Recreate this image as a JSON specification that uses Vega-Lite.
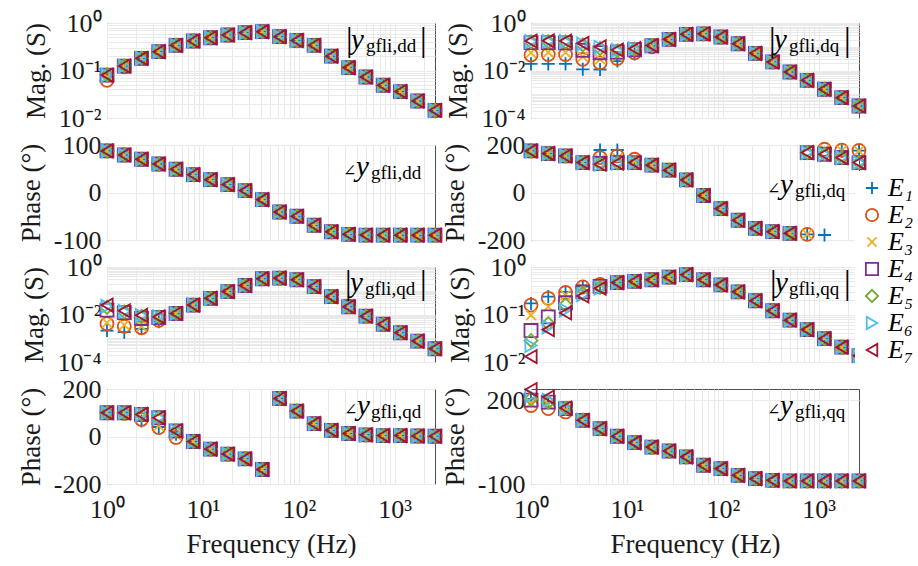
{
  "$schema": "https://vega.github.io/schema/vega-lite/v6.json",
  "padding": {"left": 16, "top": 9, "right": 0, "bottom": 0},
  "background": "white",
  "config": {
    "font": "Liberation Serif",
    "view": {"stroke": "#4d4d4d", "strokeWidth": 1},
    "style": {
      "guide-label": {"font": "Liberation Serif", "fontSize": 26, "fill": "#1a1a1a"},
      "guide-title": {"font": "Liberation Serif", "fontSize": 27, "fill": "#1a1a1a", "fontWeight": "normal"}
    },
    "axis": {"labelFont": "Liberation Serif", "labelFontSize": 26, "labelColor": "#1a1a1a", "titleFont": "Liberation Serif", "titleFontSize": 27, "titleFontWeight": "normal", "titleColor": "#1a1a1a", "gridColor": "#e9e9e9", "gridWidth": 1, "domain": false, "ticks": false, "labelPadding": 6, "labelFlush": false, "labelOverlap": false, "labelBound": false},
    "axisY": {"titlePadding": 8, "labelFont": "Liberation Serif", "titleFont": "Liberation Serif"},
    "axisX": {"titlePadding": 9, "labelPadding": 12, "labelFont": "Liberation Serif", "titleFont": "Liberation Serif"},
    "point": {"opacity": 1, "filled": false, "size": 170, "strokeWidth": 1.8, "clip": false},
    "text": {"font": "Liberation Serif", "color": "#000000", "align": "left", "baseline": "alphabetic"}
  },
  "datasets": {
    "pts": [
      {"p":"A","f":1,"E1":0.078,"E2":0.062,"E3":0.072,"E4":0.08,"E5":0.082,"E6":0.08,"E7":0.08},
      {"p":"A","f":1.514,"E1":0.124,"E2":0.12,"E3":0.124,"E4":0.124,"E5":0.126,"E6":0.124,"E7":0.124},
      {"p":"A","f":2.291,"E1":0.18,"E2":0.18,"E3":0.18,"E4":0.18,"E5":0.182,"E6":0.18,"E7":0.18},
      {"p":"A","f":3.467,"E1":0.249,"E2":0.249,"E3":0.249,"E4":0.249,"E5":0.252,"E6":0.249,"E7":0.249},
      {"p":"A","f":5.248,"E1":0.339,"E2":0.339,"E3":0.339,"E4":0.339,"E5":0.342,"E6":0.339,"E7":0.339},
      {"p":"A","f":7.943,"E1":0.418,"E2":0.418,"E3":0.418,"E4":0.418,"E5":0.42,"E6":0.418,"E7":0.418},
      {"p":"A","f":12.02,"E1":0.49,"E2":0.49,"E3":0.49,"E4":0.49,"E5":0.49,"E6":0.49,"E7":0.49},
      {"p":"A","f":18.2,"E1":0.56,"E2":0.56,"E3":0.56,"E4":0.56,"E5":0.56,"E6":0.56,"E7":0.56},
      {"p":"A","f":27.54,"E1":0.625,"E2":0.625,"E3":0.625,"E4":0.625,"E5":0.625,"E6":0.625,"E7":0.625},
      {"p":"A","f":41.69,"E1":0.656,"E2":0.656,"E3":0.656,"E4":0.656,"E5":0.656,"E6":0.656,"E7":0.656},
      {"p":"A","f":63.1,"E1":0.515,"E2":0.515,"E3":0.515,"E4":0.515,"E5":0.515,"E6":0.515,"E7":0.515},
      {"p":"A","f":95.5,"E1":0.43,"E2":0.43,"E3":0.43,"E4":0.43,"E5":0.43,"E6":0.43,"E7":0.43},
      {"p":"A","f":144.5,"E1":0.339,"E2":0.339,"E3":0.339,"E4":0.339,"E5":0.339,"E6":0.339,"E7":0.339},
      {"p":"A","f":218.8,"E1":0.2,"E2":0.2,"E3":0.2,"E4":0.2,"E5":0.2,"E6":0.2,"E7":0.2},
      {"p":"A","f":331.1,"E1":0.115,"E2":0.115,"E3":0.115,"E4":0.115,"E5":0.115,"E6":0.115,"E7":0.115},
      {"p":"A","f":501.2,"E1":0.073,"E2":0.073,"E3":0.073,"E4":0.073,"E5":0.073,"E6":0.073,"E7":0.073},
      {"p":"A","f":758.6,"E1":0.049,"E2":0.049,"E3":0.049,"E4":0.049,"E5":0.049,"E6":0.049,"E7":0.049},
      {"p":"A","f":1148,"E1":0.036,"E2":0.036,"E3":0.036,"E4":0.036,"E5":0.036,"E6":0.036,"E7":0.036},
      {"p":"A","f":1738,"E1":0.0228,"E2":0.0228,"E3":0.0228,"E4":0.0228,"E5":0.0228,"E6":0.0228,"E7":0.0228},
      {"p":"A","f":2630,"E1":0.0145,"E2":0.0145,"E3":0.0145,"E4":0.0145,"E5":0.0145,"E6":0.0145,"E7":0.0145},

      {"p":"B","f":1,"E1":0.019,"E2":0.045,"E3":0.056,"E4":0.15,"E5":0.16,"E6":0.165,"E7":0.175},
      {"p":"B","f":1.514,"E1":0.019,"E2":0.047,"E3":0.058,"E4":0.15,"E5":0.165,"E6":0.17,"E7":0.178},
      {"p":"B","f":2.291,"E1":0.019,"E2":0.047,"E3":0.057,"E4":0.145,"E5":0.16,"E6":0.165,"E7":0.175},
      {"p":"B","f":3.467,"E1":0.0112,"E2":0.0296,"E3":0.038,"E4":0.071,"E5":0.12,"E6":0.13,"E7":0.139},
      {"p":"B","f":5.248,"E1":0.011,"E2":0.021,"E3":0.03,"E4":0.056,"E5":0.085,"E6":0.095,"E7":0.1},
      {"p":"B","f":7.943,"E1":0.025,"E2":0.032,"E3":0.04,"E4":0.06,"E5":0.068,"E6":0.07,"E7":0.073},
      {"p":"B","f":12.02,"E1":0.05,"E2":0.056,"E3":0.06,"E4":0.075,"E5":0.08,"E6":0.082,"E7":0.083},
      {"p":"B","f":18.2,"E1":0.11,"E2":0.1,"E3":0.105,"E4":0.11,"E5":0.112,"E6":0.11,"E7":0.112},
      {"p":"B","f":27.54,"E1":0.205,"E2":0.205,"E3":0.205,"E4":0.205,"E5":0.205,"E6":0.205,"E7":0.205},
      {"p":"B","f":41.69,"E1":0.333,"E2":0.333,"E3":0.333,"E4":0.333,"E5":0.333,"E6":0.333,"E7":0.333},
      {"p":"B","f":63.1,"E1":0.35,"E2":0.35,"E3":0.35,"E4":0.35,"E5":0.35,"E6":0.35,"E7":0.35},
      {"p":"B","f":95.5,"E1":0.257,"E2":0.257,"E3":0.257,"E4":0.257,"E5":0.257,"E6":0.257,"E7":0.257},
      {"p":"B","f":144.5,"E1":0.134,"E2":0.134,"E3":0.134,"E4":0.134,"E5":0.134,"E6":0.134,"E7":0.134},
      {"p":"B","f":218.8,"E1":0.053,"E2":0.053,"E3":0.053,"E4":0.053,"E5":0.053,"E6":0.053,"E7":0.053},
      {"p":"B","f":331.1,"E1":0.0229,"E2":0.0229,"E3":0.0229,"E4":0.0229,"E5":0.0229,"E6":0.0229,"E7":0.0229},
      {"p":"B","f":501.2,"E1":0.00865,"E2":0.00865,"E3":0.00865,"E4":0.00865,"E5":0.00865,"E6":0.00865,"E7":0.00865},
      {"p":"B","f":758.6,"E1":0.00386,"E2":0.00386,"E3":0.00386,"E4":0.00386,"E5":0.00386,"E6":0.00386,"E7":0.00386},
      {"p":"B","f":1148,"E1":0.00162,"E2":0.00162,"E3":0.00162,"E4":0.00162,"E5":0.00162,"E6":0.00162,"E7":0.00162},
      {"p":"B","f":1738,"E1":0.000718,"E2":0.000718,"E3":0.000718,"E4":0.000718,"E5":0.000718,"E6":0.000718,"E7":0.000718},
      {"p":"B","f":2630,"E1":0.00032,"E2":0.00032,"E3":0.00032,"E4":0.00032,"E5":0.00032,"E6":0.00032,"E7":0.00032},

      {"p":"C","f":1,"E1":87.5,"E2":87.5,"E3":87.5,"E4":87.5,"E5":87.5,"E6":87.5,"E7":87.5},
      {"p":"C","f":1.514,"E1":79,"E2":79,"E3":79,"E4":79,"E5":79,"E6":79,"E7":79},
      {"p":"C","f":2.291,"E1":70,"E2":70,"E3":70,"E4":70,"E5":70,"E6":70,"E7":70},
      {"p":"C","f":3.467,"E1":60,"E2":60,"E3":60,"E4":60,"E5":60,"E6":60,"E7":60},
      {"p":"C","f":5.248,"E1":49,"E2":49,"E3":49,"E4":49,"E5":49,"E6":49,"E7":49},
      {"p":"C","f":7.943,"E1":37.5,"E2":37.5,"E3":37.5,"E4":37.5,"E5":37.5,"E6":37.5,"E7":37.5},
      {"p":"C","f":12.02,"E1":27,"E2":27,"E3":27,"E4":27,"E5":27,"E6":27,"E7":27},
      {"p":"C","f":18.2,"E1":16.7,"E2":16.7,"E3":16.7,"E4":16.7,"E5":16.7,"E6":16.7,"E7":16.7},
      {"p":"C","f":27.54,"E1":4,"E2":4,"E3":4,"E4":4,"E5":4,"E6":4,"E7":4},
      {"p":"C","f":41.69,"E1":-15,"E2":-15,"E3":-15,"E4":-15,"E5":-15,"E6":-15,"E7":-15},
      {"p":"C","f":63.1,"E1":-41,"E2":-41,"E3":-41,"E4":-41,"E5":-41,"E6":-41,"E7":-41},
      {"p":"C","f":95.5,"E1":-50,"E2":-50,"E3":-50,"E4":-50,"E5":-50,"E6":-50,"E7":-50},
      {"p":"C","f":144.5,"E1":-69,"E2":-69,"E3":-69,"E4":-69,"E5":-69,"E6":-69,"E7":-69},
      {"p":"C","f":218.8,"E1":-82.6,"E2":-82.6,"E3":-82.6,"E4":-82.6,"E5":-82.6,"E6":-82.6,"E7":-82.6},
      {"p":"C","f":331.1,"E1":-88,"E2":-88,"E3":-88,"E4":-88,"E5":-88,"E6":-88,"E7":-88},
      {"p":"C","f":501.2,"E1":-89.6,"E2":-89.6,"E3":-89.6,"E4":-89.6,"E5":-89.6,"E6":-89.6,"E7":-89.6},
      {"p":"C","f":758.6,"E1":-89.7,"E2":-89.7,"E3":-89.7,"E4":-89.7,"E5":-89.7,"E6":-89.7,"E7":-89.7},
      {"p":"C","f":1148,"E1":-89.8,"E2":-89.8,"E3":-89.8,"E4":-89.8,"E5":-89.8,"E6":-89.8,"E7":-89.8},
      {"p":"C","f":1738,"E1":-89.8,"E2":-89.8,"E3":-89.8,"E4":-89.8,"E5":-89.8,"E6":-89.8,"E7":-89.8},
      {"p":"C","f":2630,"E1":-89.9,"E2":-89.9,"E3":-89.9,"E4":-89.9,"E5":-89.9,"E6":-89.9,"E7":-89.9},

      {"p":"D","f":1,"E1":175,"E2":175,"E3":175,"E4":175,"E5":175,"E6":175,"E7":175},
      {"p":"D","f":1.514,"E1":164,"E2":164,"E3":164,"E4":164,"E5":164,"E6":164,"E7":164},
      {"p":"D","f":2.291,"E1":154,"E2":154,"E3":154,"E4":154,"E5":154,"E6":154,"E7":154},
      {"p":"D","f":3.467,"E1":126,"E2":126,"E3":126,"E4":126,"E5":126,"E6":126,"E7":126},
      {"p":"D","f":5.248,"E1":179,"E2":147,"E3":140,"E4":122,"E5":120,"E6":119,"E7":119},
      {"p":"D","f":7.943,"E1":179,"E2":154,"E3":145,"E4":126,"E5":124,"E6":124,"E7":124},
      {"p":"D","f":12.02,"E1":128,"E2":140,"E3":132,"E4":126,"E5":126,"E6":126,"E7":126},
      {"p":"D","f":18.2,"E1":115,"E2":115,"E3":115,"E4":115,"E5":115,"E6":115,"E7":115},
      {"p":"D","f":27.54,"E1":94,"E2":94,"E3":94,"E4":94,"E5":94,"E6":94,"E7":94},
      {"p":"D","f":41.69,"E1":53,"E2":53,"E3":53,"E4":53,"E5":53,"E6":53,"E7":53},
      {"p":"D","f":63.1,"E1":-12.5,"E2":-12.5,"E3":-12.5,"E4":-12.5,"E5":-12.5,"E6":-12.5,"E7":-12.5},
      {"p":"D","f":95.5,"E1":-68,"E2":-68,"E3":-68,"E4":-68,"E5":-68,"E6":-68,"E7":-68},
      {"p":"D","f":144.5,"E1":-117,"E2":-117,"E3":-117,"E4":-117,"E5":-117,"E6":-117,"E7":-117},
      {"p":"D","f":218.8,"E1":-151,"E2":-151,"E3":-151,"E4":-151,"E5":-151,"E6":-151,"E7":-151},
      {"p":"D","f":331.1,"E1":-165,"E2":-165,"E3":-165,"E4":-165,"E5":-165,"E6":-165,"E7":-165},
      {"p":"D","f":501.2,"E1":-172,"E2":-172,"E3":-172,"E4":-172,"E5":-172,"E6":-172,"E7":-172},
      {"p":"D","f":758.6,"E1":-176,"E2":-176,"E3":-176,"E4":168,"E5":168,"E6":168,"E7":168},
      {"p":"D","f":1148,"E1":-179,"E2":182,"E3":180,"E4":161,"E5":161,"E6":161,"E7":161},
      {"p":"D","f":1738,"E1":175,"E2":178,"E3":176,"E4":147,"E5":147,"E6":147,"E7":147},
      {"p":"D","f":2630,"E1":176,"E2":177,"E3":175,"E4":126,"E5":126,"E6":126,"E7":126},

      {"p":"E","f":1,"E1":0.0021,"E2":0.0041,"E3":0.0045,"E4":0.0153,"E5":0.02,"E6":0.022,"E7":0.0249},
      {"p":"E","f":1.514,"E1":0.0018,"E2":0.0032,"E3":0.0036,"E4":0.012,"E5":0.013,"E6":0.0135,"E7":0.0143},
      {"p":"E","f":2.291,"E1":0.0025,"E2":0.0028,"E3":0.0031,"E4":0.0068,"E5":0.0085,"E6":0.009,"E7":0.0093},
      {"p":"E","f":3.467,"E1":0.005,"E2":0.0057,"E3":0.006,"E4":0.0075,"E5":0.0078,"E6":0.0079,"E7":0.0079},
      {"p":"E","f":5.248,"E1":0.011,"E2":0.011,"E3":0.011,"E4":0.011,"E5":0.011,"E6":0.011,"E7":0.011},
      {"p":"E","f":7.943,"E1":0.0249,"E2":0.0249,"E3":0.0249,"E4":0.0249,"E5":0.0249,"E6":0.0249,"E7":0.0249},
      {"p":"E","f":12.02,"E1":0.048,"E2":0.048,"E3":0.048,"E4":0.048,"E5":0.048,"E6":0.048,"E7":0.048},
      {"p":"E","f":18.2,"E1":0.092,"E2":0.092,"E3":0.092,"E4":0.092,"E5":0.092,"E6":0.092,"E7":0.092},
      {"p":"E","f":27.54,"E1":0.166,"E2":0.166,"E3":0.166,"E4":0.166,"E5":0.166,"E6":0.166,"E7":0.166},
      {"p":"E","f":41.69,"E1":0.319,"E2":0.319,"E3":0.319,"E4":0.319,"E5":0.319,"E6":0.319,"E7":0.319},
      {"p":"E","f":63.1,"E1":0.34,"E2":0.34,"E3":0.34,"E4":0.34,"E5":0.34,"E6":0.34,"E7":0.34},
      {"p":"E","f":95.5,"E1":0.29,"E2":0.29,"E3":0.29,"E4":0.29,"E5":0.29,"E6":0.29,"E7":0.29},
      {"p":"E","f":144.5,"E1":0.15,"E2":0.15,"E3":0.15,"E4":0.15,"E5":0.15,"E6":0.15,"E7":0.15},
      {"p":"E","f":218.8,"E1":0.0565,"E2":0.0565,"E3":0.0565,"E4":0.0565,"E5":0.0565,"E6":0.0565,"E7":0.0565},
      {"p":"E","f":331.1,"E1":0.0212,"E2":0.0212,"E3":0.0212,"E4":0.0212,"E5":0.0212,"E6":0.0212,"E7":0.0212},
      {"p":"E","f":501.2,"E1":0.0085,"E2":0.0085,"E3":0.0085,"E4":0.0085,"E5":0.0085,"E6":0.0085,"E7":0.0085},
      {"p":"E","f":758.6,"E1":0.0039,"E2":0.0039,"E3":0.0039,"E4":0.0039,"E5":0.0039,"E6":0.0039,"E7":0.0039},
      {"p":"E","f":1148,"E1":0.0017,"E2":0.0017,"E3":0.0017,"E4":0.0017,"E5":0.0017,"E6":0.0017,"E7":0.0017},
      {"p":"E","f":1738,"E1":0.00076,"E2":0.00076,"E3":0.00076,"E4":0.00076,"E5":0.00076,"E6":0.00076,"E7":0.00076},
      {"p":"E","f":2630,"E1":0.00036,"E2":0.00036,"E3":0.00036,"E4":0.00036,"E5":0.00036,"E6":0.00036,"E7":0.00036},

      {"p":"F","f":1,"E1":0.171,"E2":0.158,"E3":0.097,"E4":0.046,"E5":0.0284,"E6":0.0223,"E7":0.013},
      {"p":"F","f":1.514,"E1":0.238,"E2":0.219,"E3":0.146,"E4":0.089,"E5":0.0645,"E6":0.055,"E7":0.048},
      {"p":"F","f":2.291,"E1":0.3,"E2":0.29,"E3":0.257,"E4":0.177,"E5":0.16,"E6":0.124,"E7":0.108},
      {"p":"F","f":3.467,"E1":0.388,"E2":0.38,"E3":0.36,"E4":0.3,"E5":0.28,"E6":0.26,"E7":0.245},
      {"p":"F","f":5.248,"E1":0.44,"E2":0.43,"E3":0.42,"E4":0.39,"E5":0.37,"E6":0.36,"E7":0.357},
      {"p":"F","f":7.943,"E1":0.47,"E2":0.47,"E3":0.47,"E4":0.47,"E5":0.47,"E6":0.47,"E7":0.47},
      {"p":"F","f":12.02,"E1":0.5,"E2":0.5,"E3":0.5,"E4":0.5,"E5":0.5,"E6":0.5,"E7":0.5},
      {"p":"F","f":18.2,"E1":0.54,"E2":0.54,"E3":0.54,"E4":0.54,"E5":0.54,"E6":0.54,"E7":0.54},
      {"p":"F","f":27.54,"E1":0.61,"E2":0.61,"E3":0.61,"E4":0.61,"E5":0.61,"E6":0.61,"E7":0.61},
      {"p":"F","f":41.69,"E1":0.69,"E2":0.69,"E3":0.69,"E4":0.69,"E5":0.69,"E6":0.69,"E7":0.69},
      {"p":"F","f":63.1,"E1":0.54,"E2":0.54,"E3":0.54,"E4":0.54,"E5":0.54,"E6":0.54,"E7":0.54},
      {"p":"F","f":95.5,"E1":0.42,"E2":0.42,"E3":0.42,"E4":0.42,"E5":0.42,"E6":0.42,"E7":0.42},
      {"p":"F","f":144.5,"E1":0.3,"E2":0.3,"E3":0.3,"E4":0.3,"E5":0.3,"E6":0.3,"E7":0.3},
      {"p":"F","f":218.8,"E1":0.195,"E2":0.195,"E3":0.195,"E4":0.195,"E5":0.195,"E6":0.195,"E7":0.195},
      {"p":"F","f":331.1,"E1":0.12,"E2":0.12,"E3":0.12,"E4":0.12,"E5":0.12,"E6":0.12,"E7":0.12},
      {"p":"F","f":501.2,"E1":0.076,"E2":0.076,"E3":0.076,"E4":0.076,"E5":0.076,"E6":0.076,"E7":0.076},
      {"p":"F","f":758.6,"E1":0.048,"E2":0.048,"E3":0.048,"E4":0.048,"E5":0.048,"E6":0.048,"E7":0.048},
      {"p":"F","f":1148,"E1":0.031,"E2":0.031,"E3":0.031,"E4":0.031,"E5":0.031,"E6":0.031,"E7":0.031},
      {"p":"F","f":1738,"E1":0.0205,"E2":0.0205,"E3":0.0205,"E4":0.0205,"E5":0.0205,"E6":0.0205,"E7":0.0205},
      {"p":"F","f":2630,"E1":0.0136,"E2":0.0136,"E3":0.0136,"E4":0.0136,"E5":0.0136,"E6":0.0136,"E7":0.0136},

      {"p":"G","f":1,"E1":100,"E2":100,"E3":100,"E4":100,"E5":100,"E6":100,"E7":100},
      {"p":"G","f":1.514,"E1":100,"E2":98,"E3":100,"E4":100,"E5":100,"E6":100,"E7":100},
      {"p":"G","f":2.291,"E1":65,"E2":72,"E3":80,"E4":93,"E5":93,"E6":93,"E7":93},
      {"p":"G","f":3.467,"E1":40,"E2":37.5,"E3":45,"E4":79,"E5":79,"E6":79,"E7":79},
      {"p":"G","f":5.248,"E1":10,"E2":-4,"E3":5,"E4":24,"E5":24,"E6":24,"E7":24},
      {"p":"G","f":7.943,"E1":-21,"E2":-21,"E3":-21,"E4":-21,"E5":-21,"E6":-21,"E7":-21},
      {"p":"G","f":12.02,"E1":-53,"E2":-53,"E3":-53,"E4":-53,"E5":-53,"E6":-53,"E7":-53},
      {"p":"G","f":18.2,"E1":-74,"E2":-74,"E3":-74,"E4":-74,"E5":-74,"E6":-74,"E7":-74},
      {"p":"G","f":27.54,"E1":-94,"E2":-94,"E3":-94,"E4":-94,"E5":-94,"E6":-94,"E7":-94},
      {"p":"G","f":41.69,"E1":-139,"E2":-139,"E3":-139,"E4":-139,"E5":-139,"E6":-139,"E7":-139},
      {"p":"G","f":63.1,"E1":160,"E2":160,"E3":160,"E4":160,"E5":160,"E6":160,"E7":160},
      {"p":"G","f":95.5,"E1":107,"E2":107,"E3":107,"E4":107,"E5":107,"E6":107,"E7":107},
      {"p":"G","f":144.5,"E1":54,"E2":54,"E3":54,"E4":54,"E5":54,"E6":54,"E7":54},
      {"p":"G","f":218.8,"E1":26,"E2":26,"E3":26,"E4":26,"E5":26,"E6":26,"E7":26},
      {"p":"G","f":331.1,"E1":12.5,"E2":12.5,"E3":12.5,"E4":12.5,"E5":12.5,"E6":12.5,"E7":12.5},
      {"p":"G","f":501.2,"E1":7,"E2":7,"E3":7,"E4":7,"E5":7,"E6":7,"E7":7},
      {"p":"G","f":758.6,"E1":4,"E2":4,"E3":4,"E4":4,"E5":4,"E6":4,"E7":4},
      {"p":"G","f":1148,"E1":4,"E2":4,"E3":4,"E4":4,"E5":4,"E6":4,"E7":4},
      {"p":"G","f":1738,"E1":2,"E2":2,"E3":2,"E4":2,"E5":2,"E6":2,"E7":2},
      {"p":"G","f":2630,"E1":1,"E2":1,"E3":1,"E4":1,"E5":1,"E6":1,"E7":1},

      {"p":"H","f":1,"E1":205,"E2":181,"E3":190,"E4":200,"E5":205,"E6":217,"E7":238},
      {"p":"H","f":1.514,"E1":193,"E2":170,"E3":185,"E4":193,"E5":193,"E6":200,"E7":211},
      {"p":"H","f":2.291,"E1":170,"E2":158,"E3":165,"E4":170,"E5":170,"E6":170,"E7":172},
      {"p":"H","f":3.467,"E1":128,"E2":128,"E3":128,"E4":128,"E5":128,"E6":128,"E7":128},
      {"p":"H","f":5.248,"E1":98,"E2":98,"E3":98,"E4":98,"E5":98,"E6":98,"E7":98},
      {"p":"H","f":7.943,"E1":71,"E2":71,"E3":71,"E4":71,"E5":71,"E6":71,"E7":71},
      {"p":"H","f":12.02,"E1":48,"E2":48,"E3":48,"E4":48,"E5":48,"E6":48,"E7":48},
      {"p":"H","f":18.2,"E1":32,"E2":32,"E3":32,"E4":32,"E5":32,"E6":32,"E7":32},
      {"p":"H","f":27.54,"E1":18,"E2":18,"E3":18,"E4":18,"E5":18,"E6":18,"E7":18},
      {"p":"H","f":41.69,"E1":-3,"E2":-3,"E3":-3,"E4":-3,"E5":-3,"E6":-3,"E7":-3},
      {"p":"H","f":63.1,"E1":-33,"E2":-33,"E3":-33,"E4":-33,"E5":-33,"E6":-33,"E7":-33},
      {"p":"H","f":95.5,"E1":-45,"E2":-45,"E3":-45,"E4":-45,"E5":-45,"E6":-45,"E7":-45},
      {"p":"H","f":144.5,"E1":-69,"E2":-69,"E3":-69,"E4":-69,"E5":-69,"E6":-69,"E7":-69},
      {"p":"H","f":218.8,"E1":-81,"E2":-81,"E3":-81,"E4":-81,"E5":-81,"E6":-81,"E7":-81},
      {"p":"H","f":331.1,"E1":-87,"E2":-87,"E3":-87,"E4":-87,"E5":-87,"E6":-87,"E7":-87},
      {"p":"H","f":501.2,"E1":-89,"E2":-89,"E3":-89,"E4":-89,"E5":-89,"E6":-89,"E7":-89},
      {"p":"H","f":758.6,"E1":-89,"E2":-89,"E3":-89,"E4":-89,"E5":-89,"E6":-89,"E7":-89},
      {"p":"H","f":1148,"E1":-89,"E2":-89,"E3":-89,"E4":-89,"E5":-89,"E6":-89,"E7":-89},
      {"p":"H","f":1738,"E1":-89,"E2":-89,"E3":-89,"E4":-89,"E5":-89,"E6":-89,"E7":-89},
      {"p":"H","f":2630,"E1":-89,"E2":-89,"E3":-89,"E4":-89,"E5":-89,"E6":-89,"E7":-89}
    ]
  },
  "columns": 2,
  "spacing": {"row": 27, "column": 96},
  "bounds": "flush",
  "resolve": {"scale": {"color": "shared", "shape": "shared", "x": "independent", "y": "independent"}, "legend": {"color": "shared", "shape": "shared"}},
  "concat": [
    {
      "width": 328, "height": 95,
      "layer": [
        {
          "data": {"name": "pts"},
          "transform": [{"filter": "datum.p == 'A'"}, {"fold": ["E1","E2","E3","E4","E5","E6","E7"], "as": ["s","v"]}],
          "mark": {"type": "point", "filled": false, "size": 170, "strokeWidth": 1.8, "clip": false, "opacity": 1},
          "encoding": {
            "x": {"field": "f", "type": "quantitative", "scale": {"type": "log", "domain": [1, 2630], "nice": false}, "axis": {"values": [1,2,3,4,5,6,7,8,9,10,20,30,40,50,60,70,80,90,100,200,300,400,500,600,700,800,900,1000,2000], "labels": false, "title": null}},
            "y": {"field": "v", "type": "quantitative", "scale": {"type": "log", "domain": [0.01, 1], "nice": false}, "axis": {"values": [0.01,0.02,0.03,0.04,0.05,0.06,0.07,0.08,0.09,0.1,0.2,0.3,0.4,0.5,0.6,0.7,0.8,0.9,1], "labelExpr": "datum.value == 1 ? '10⁰' : datum.value == 0.1 ? '10⁻¹' : datum.value == 0.01 ? '10⁻²' : ''", "title": "Mag. (S)", "labelFont": "Liberation Serif", "titleFont": "Liberation Serif"}},
            "color": {"field": "s", "type": "nominal", "scale": {"domain": ["E1","E2","E3","E4","E5","E6","E7"], "range": ["#0072BD","#D95319","#EDB120","#7E2F8E","#77AC30","#4DBEEE","#A2142F"]}, "legend": {"title": null, "orient": "none", "legendX": 748, "legendY": 148, "labelFont": "Liberation Serif", "labelFontSize": 26, "labelFontStyle": "italic", "labelColor": "#000000", "symbolSize": 150, "symbolStrokeWidth": 1.8, "symbolOpacity": 1, "rowPadding": 1, "padding": 4, "fillColor": "white", "labelOffset": 3, "labelExpr": "'E' + ['₀','₁','₂','₃','₄','₅','₆','₇'][toNumber(substring(datum.label, 1))]"}},
            "shape": {"field": "s", "type": "nominal", "scale": {"domain": ["E1","E2","E3","E4","E5","E6","E7"], "range": ["M-1,0L1,0M0,-1L0,1","circle","M-0.75,-0.75L0.75,0.75M-0.75,0.75L0.75,-0.75","square","diamond","triangle-right","triangle-left"]}, "legend": {"title": null, "orient": "none", "legendX": 748, "legendY": 148, "labelFont": "Liberation Serif", "labelFontSize": 26, "labelFontStyle": "italic", "labelColor": "#000000", "symbolSize": 150, "symbolStrokeWidth": 1.8, "symbolOpacity": 1, "rowPadding": 1, "padding": 4, "fillColor": "white", "labelOffset": 3, "labelExpr": "'E' + ['₀','₁','₂','₃','₄','₅','₆','₇'][toNumber(substring(datum.label, 1))]"}},
            "order": {"field": "s", "type": "ordinal"}
          }
        },
        {"data": {"values": [{}]}, "mark": {"type": "text", "text": "|", "fontSize": 33, "dx": -89, "dy": 28}, "encoding": {"x": {"datum": 2630, "type": "quantitative"}, "y": {"datum": 1, "type": "quantitative"}}},
        {"data": {"values": [{}]}, "mark": {"type": "text", "text": "y", "fontStyle": "italic", "fontSize": 29, "dx": -84, "dy": 26}, "encoding": {"x": {"datum": 2630, "type": "quantitative"}, "y": {"datum": 1, "type": "quantitative"}}},
        {"data": {"values": [{}]}, "mark": {"type": "text", "text": "gfli,dd", "fontSize": 19, "dx": -69, "dy": 29}, "encoding": {"x": {"datum": 2630, "type": "quantitative"}, "y": {"datum": 1, "type": "quantitative"}}},
        {"data": {"values": [{}]}, "mark": {"type": "text", "text": "|", "fontSize": 33, "dx": -15, "dy": 28}, "encoding": {"x": {"datum": 2630, "type": "quantitative"}, "y": {"datum": 1, "type": "quantitative"}}}
      ]
    },
    {
      "width": 328, "height": 95,
      "layer": [
        {
          "data": {"name": "pts"},
          "transform": [{"filter": "datum.p == 'B'"}, {"fold": ["E1","E2","E3","E4","E5","E6","E7"], "as": ["s","v"]}],
          "mark": {"type": "point", "filled": false, "size": 170, "strokeWidth": 1.8, "clip": false, "opacity": 1},
          "encoding": {
            "x": {"field": "f", "type": "quantitative", "scale": {"type": "log", "domain": [1, 2630], "nice": false}, "axis": {"values": [1,2,3,4,5,6,7,8,9,10,20,30,40,50,60,70,80,90,100,200,300,400,500,600,700,800,900,1000,2000], "labels": false, "title": null}},
            "y": {"field": "v", "type": "quantitative", "scale": {"type": "log", "domain": [0.0001, 1], "nice": false}, "axis": {"values": [0.0001,0.0002,0.0003,0.0004,0.0005,0.0006,0.0007,0.0008,0.0009,0.001,0.002,0.003,0.004,0.005,0.006,0.007,0.008,0.009,0.01,0.02,0.03,0.04,0.05,0.06,0.07,0.08,0.09,0.1,0.2,0.3,0.4,0.5,0.6,0.7,0.8,0.9,1], "labelExpr": "datum.value == 1 ? '10⁰' : datum.value == 0.01 ? '10⁻²' : datum.value == 0.0001 ? '10⁻⁴' : ''", "title": "Mag. (S)", "labelFont": "Liberation Serif", "titleFont": "Liberation Serif"}},
            "color": {"field": "s", "type": "nominal", "scale": {"domain": ["E1","E2","E3","E4","E5","E6","E7"], "range": ["#0072BD","#D95319","#EDB120","#7E2F8E","#77AC30","#4DBEEE","#A2142F"]}, "legend": {"title": null, "orient": "none", "legendX": 748, "legendY": 148, "labelFont": "Liberation Serif", "labelFontSize": 26, "labelFontStyle": "italic", "labelColor": "#000000", "symbolSize": 150, "symbolStrokeWidth": 1.8, "symbolOpacity": 1, "rowPadding": 1, "padding": 4, "fillColor": "white", "labelOffset": 3, "labelExpr": "'E' + ['₀','₁','₂','₃','₄','₅','₆','₇'][toNumber(substring(datum.label, 1))]"}},
            "shape": {"field": "s", "type": "nominal", "scale": {"domain": ["E1","E2","E3","E4","E5","E6","E7"], "range": ["M-1,0L1,0M0,-1L0,1","circle","M-0.75,-0.75L0.75,0.75M-0.75,0.75L0.75,-0.75","square","diamond","triangle-right","triangle-left"]}, "legend": {"title": null, "orient": "none", "legendX": 748, "legendY": 148, "labelFont": "Liberation Serif", "labelFontSize": 26, "labelFontStyle": "italic", "labelColor": "#000000", "symbolSize": 150, "symbolStrokeWidth": 1.8, "symbolOpacity": 1, "rowPadding": 1, "padding": 4, "fillColor": "white", "labelOffset": 3, "labelExpr": "'E' + ['₀','₁','₂','₃','₄','₅','₆','₇'][toNumber(substring(datum.label, 1))]"}},
            "order": {"field": "s", "type": "ordinal"}
          }
        },
        {"data": {"values": [{}]}, "mark": {"type": "text", "text": "|", "fontSize": 33, "dx": -90, "dy": 28}, "encoding": {"x": {"datum": 2630, "type": "quantitative"}, "y": {"datum": 1, "type": "quantitative"}}},
        {"data": {"values": [{}]}, "mark": {"type": "text", "text": "y", "fontStyle": "italic", "fontSize": 29, "dx": -85, "dy": 26}, "encoding": {"x": {"datum": 2630, "type": "quantitative"}, "y": {"datum": 1, "type": "quantitative"}}},
        {"data": {"values": [{}]}, "mark": {"type": "text", "text": "gfli,dq", "fontSize": 19, "dx": -70, "dy": 29}, "encoding": {"x": {"datum": 2630, "type": "quantitative"}, "y": {"datum": 1, "type": "quantitative"}}},
        {"data": {"values": [{}]}, "mark": {"type": "text", "text": "|", "fontSize": 33, "dx": -15, "dy": 28}, "encoding": {"x": {"datum": 2630, "type": "quantitative"}, "y": {"datum": 1, "type": "quantitative"}}}
      ]
    },
    {
      "width": 328, "height": 95,
      "layer": [
        {
          "data": {"name": "pts"},
          "transform": [{"filter": "datum.p == 'C'"}, {"fold": ["E1","E2","E3","E4","E5","E6","E7"], "as": ["s","v"]}],
          "mark": {"type": "point", "filled": false, "size": 170, "strokeWidth": 1.8, "clip": false, "opacity": 1},
          "encoding": {
            "x": {"field": "f", "type": "quantitative", "scale": {"type": "log", "domain": [1, 2630], "nice": false}, "axis": {"values": [1,2,3,4,5,6,7,8,9,10,20,30,40,50,60,70,80,90,100,200,300,400,500,600,700,800,900,1000,2000], "labels": false, "title": null}},
            "y": {"field": "v", "type": "quantitative", "scale": {"domain": [-100, 100], "nice": false, "zero": false}, "axis": {"values": [-100, 0, 100], "labelExpr": "replace(datum.label, '−', '-')", "title": "Phase (°)", "labelFont": "Liberation Serif", "titleFont": "Liberation Serif"}},
            "color": {"field": "s", "type": "nominal", "scale": {"domain": ["E1","E2","E3","E4","E5","E6","E7"], "range": ["#0072BD","#D95319","#EDB120","#7E2F8E","#77AC30","#4DBEEE","#A2142F"]}, "legend": {"title": null, "orient": "none", "legendX": 748, "legendY": 148, "labelFont": "Liberation Serif", "labelFontSize": 26, "labelFontStyle": "italic", "labelColor": "#000000", "symbolSize": 150, "symbolStrokeWidth": 1.8, "symbolOpacity": 1, "rowPadding": 1, "padding": 4, "fillColor": "white", "labelOffset": 3, "labelExpr": "'E' + ['₀','₁','₂','₃','₄','₅','₆','₇'][toNumber(substring(datum.label, 1))]"}},
            "shape": {"field": "s", "type": "nominal", "scale": {"domain": ["E1","E2","E3","E4","E5","E6","E7"], "range": ["M-1,0L1,0M0,-1L0,1","circle","M-0.75,-0.75L0.75,0.75M-0.75,0.75L0.75,-0.75","square","diamond","triangle-right","triangle-left"]}, "legend": {"title": null, "orient": "none", "legendX": 748, "legendY": 148, "labelFont": "Liberation Serif", "labelFontSize": 26, "labelFontStyle": "italic", "labelColor": "#000000", "symbolSize": 150, "symbolStrokeWidth": 1.8, "symbolOpacity": 1, "rowPadding": 1, "padding": 4, "fillColor": "white", "labelOffset": 3, "labelExpr": "'E' + ['₀','₁','₂','₃','₄','₅','₆','₇'][toNumber(substring(datum.label, 1))]"}},
            "order": {"field": "s", "type": "ordinal"}
          }
        },
        {"data": {"values": [{}]}, "mark": {"type": "text", "text": "∠", "font": "DejaVu Serif", "fontSize": 16, "dx": -92, "dy": 31}, "encoding": {"x": {"datum": 2630, "type": "quantitative"}, "y": {"datum": 100, "type": "quantitative"}}},
        {"data": {"values": [{}]}, "mark": {"type": "text", "text": "y", "fontStyle": "italic", "fontSize": 29, "dx": -79, "dy": 31}, "encoding": {"x": {"datum": 2630, "type": "quantitative"}, "y": {"datum": 100, "type": "quantitative"}}},
        {"data": {"values": [{}]}, "mark": {"type": "text", "text": "gfli,dd", "fontSize": 19, "dx": -64, "dy": 34}, "encoding": {"x": {"datum": 2630, "type": "quantitative"}, "y": {"datum": 100, "type": "quantitative"}}}
      ]
    },
    {
      "width": 328, "height": 95,
      "layer": [
        {
          "data": {"name": "pts"},
          "transform": [{"filter": "datum.p == 'D'"}, {"fold": ["E1","E2","E3","E4","E5","E6","E7"], "as": ["s","v"]}],
          "mark": {"type": "point", "filled": false, "size": 170, "strokeWidth": 1.8, "clip": false, "opacity": 1},
          "encoding": {
            "x": {"field": "f", "type": "quantitative", "scale": {"type": "log", "domain": [1, 2630], "nice": false}, "axis": {"values": [1,2,3,4,5,6,7,8,9,10,20,30,40,50,60,70,80,90,100,200,300,400,500,600,700,800,900,1000,2000], "labels": false, "title": null}},
            "y": {"field": "v", "type": "quantitative", "scale": {"domain": [-200, 200], "nice": false, "zero": false}, "axis": {"values": [-200, 0, 200], "labelExpr": "replace(datum.label, '−', '-')", "title": "Phase (°)", "labelFont": "Liberation Serif", "titleFont": "Liberation Serif"}},
            "color": {"field": "s", "type": "nominal", "scale": {"domain": ["E1","E2","E3","E4","E5","E6","E7"], "range": ["#0072BD","#D95319","#EDB120","#7E2F8E","#77AC30","#4DBEEE","#A2142F"]}, "legend": {"title": null, "orient": "none", "legendX": 748, "legendY": 148, "labelFont": "Liberation Serif", "labelFontSize": 26, "labelFontStyle": "italic", "labelColor": "#000000", "symbolSize": 150, "symbolStrokeWidth": 1.8, "symbolOpacity": 1, "rowPadding": 1, "padding": 4, "fillColor": "white", "labelOffset": 3, "labelExpr": "'E' + ['₀','₁','₂','₃','₄','₅','₆','₇'][toNumber(substring(datum.label, 1))]"}},
            "shape": {"field": "s", "type": "nominal", "scale": {"domain": ["E1","E2","E3","E4","E5","E6","E7"], "range": ["M-1,0L1,0M0,-1L0,1","circle","M-0.75,-0.75L0.75,0.75M-0.75,0.75L0.75,-0.75","square","diamond","triangle-right","triangle-left"]}, "legend": {"title": null, "orient": "none", "legendX": 748, "legendY": 148, "labelFont": "Liberation Serif", "labelFontSize": 26, "labelFontStyle": "italic", "labelColor": "#000000", "symbolSize": 150, "symbolStrokeWidth": 1.8, "symbolOpacity": 1, "rowPadding": 1, "padding": 4, "fillColor": "white", "labelOffset": 3, "labelExpr": "'E' + ['₀','₁','₂','₃','₄','₅','₆','₇'][toNumber(substring(datum.label, 1))]"}},
            "order": {"field": "s", "type": "ordinal"}
          }
        },
        {"data": {"values": [{}]}, "mark": {"type": "text", "text": "∠", "font": "DejaVu Serif", "fontSize": 16, "dx": -92, "dy": 49}, "encoding": {"x": {"datum": 2630, "type": "quantitative"}, "y": {"datum": 200, "type": "quantitative"}}},
        {"data": {"values": [{}]}, "mark": {"type": "text", "text": "y", "fontStyle": "italic", "fontSize": 29, "dx": -79, "dy": 49}, "encoding": {"x": {"datum": 2630, "type": "quantitative"}, "y": {"datum": 200, "type": "quantitative"}}},
        {"data": {"values": [{}]}, "mark": {"type": "text", "text": "gfli,dq", "fontSize": 19, "dx": -64, "dy": 52}, "encoding": {"x": {"datum": 2630, "type": "quantitative"}, "y": {"datum": 200, "type": "quantitative"}}}
      ]
    },
    {
      "width": 328, "height": 95,
      "layer": [
        {
          "data": {"name": "pts"},
          "transform": [{"filter": "datum.p == 'E'"}, {"fold": ["E1","E2","E3","E4","E5","E6","E7"], "as": ["s","v"]}],
          "mark": {"type": "point", "filled": false, "size": 170, "strokeWidth": 1.8, "clip": false, "opacity": 1},
          "encoding": {
            "x": {"field": "f", "type": "quantitative", "scale": {"type": "log", "domain": [1, 2630], "nice": false}, "axis": {"values": [1,2,3,4,5,6,7,8,9,10,20,30,40,50,60,70,80,90,100,200,300,400,500,600,700,800,900,1000,2000], "labels": false, "title": null}},
            "y": {"field": "v", "type": "quantitative", "scale": {"type": "log", "domain": [0.0001, 1], "nice": false}, "axis": {"values": [0.0001,0.0002,0.0003,0.0004,0.0005,0.0006,0.0007,0.0008,0.0009,0.001,0.002,0.003,0.004,0.005,0.006,0.007,0.008,0.009,0.01,0.02,0.03,0.04,0.05,0.06,0.07,0.08,0.09,0.1,0.2,0.3,0.4,0.5,0.6,0.7,0.8,0.9,1], "labelExpr": "datum.value == 1 ? '10⁰' : datum.value == 0.01 ? '10⁻²' : datum.value == 0.0001 ? '10⁻⁴' : ''", "title": "Mag. (S)", "labelFont": "Liberation Serif", "titleFont": "Liberation Serif"}},
            "color": {"field": "s", "type": "nominal", "scale": {"domain": ["E1","E2","E3","E4","E5","E6","E7"], "range": ["#0072BD","#D95319","#EDB120","#7E2F8E","#77AC30","#4DBEEE","#A2142F"]}, "legend": {"title": null, "orient": "none", "legendX": 748, "legendY": 148, "labelFont": "Liberation Serif", "labelFontSize": 26, "labelFontStyle": "italic", "labelColor": "#000000", "symbolSize": 150, "symbolStrokeWidth": 1.8, "symbolOpacity": 1, "rowPadding": 1, "padding": 4, "fillColor": "white", "labelOffset": 3, "labelExpr": "'E' + ['₀','₁','₂','₃','₄','₅','₆','₇'][toNumber(substring(datum.label, 1))]"}},
            "shape": {"field": "s", "type": "nominal", "scale": {"domain": ["E1","E2","E3","E4","E5","E6","E7"], "range": ["M-1,0L1,0M0,-1L0,1","circle","M-0.75,-0.75L0.75,0.75M-0.75,0.75L0.75,-0.75","square","diamond","triangle-right","triangle-left"]}, "legend": {"title": null, "orient": "none", "legendX": 748, "legendY": 148, "labelFont": "Liberation Serif", "labelFontSize": 26, "labelFontStyle": "italic", "labelColor": "#000000", "symbolSize": 150, "symbolStrokeWidth": 1.8, "symbolOpacity": 1, "rowPadding": 1, "padding": 4, "fillColor": "white", "labelOffset": 3, "labelExpr": "'E' + ['₀','₁','₂','₃','₄','₅','₆','₇'][toNumber(substring(datum.label, 1))]"}},
            "order": {"field": "s", "type": "ordinal"}
          }
        },
        {"data": {"values": [{}]}, "mark": {"type": "text", "text": "|", "fontSize": 33, "dx": -90, "dy": 27}, "encoding": {"x": {"datum": 2630, "type": "quantitative"}, "y": {"datum": 1, "type": "quantitative"}}},
        {"data": {"values": [{}]}, "mark": {"type": "text", "text": "y", "fontStyle": "italic", "fontSize": 29, "dx": -85, "dy": 25}, "encoding": {"x": {"datum": 2630, "type": "quantitative"}, "y": {"datum": 1, "type": "quantitative"}}},
        {"data": {"values": [{}]}, "mark": {"type": "text", "text": "gfli,qd", "fontSize": 19, "dx": -70, "dy": 28}, "encoding": {"x": {"datum": 2630, "type": "quantitative"}, "y": {"datum": 1, "type": "quantitative"}}},
        {"data": {"values": [{}]}, "mark": {"type": "text", "text": "|", "fontSize": 33, "dx": -15, "dy": 27}, "encoding": {"x": {"datum": 2630, "type": "quantitative"}, "y": {"datum": 1, "type": "quantitative"}}}
      ]
    },
    {
      "width": 328, "height": 95,
      "layer": [
        {
          "data": {"name": "pts"},
          "transform": [{"filter": "datum.p == 'F'"}, {"fold": ["E1","E2","E3","E4","E5","E6","E7"], "as": ["s","v"]}],
          "mark": {"type": "point", "filled": false, "size": 170, "strokeWidth": 1.8, "clip": false, "opacity": 1},
          "encoding": {
            "x": {"field": "f", "type": "quantitative", "scale": {"type": "log", "domain": [1, 2630], "nice": false}, "axis": {"values": [1,2,3,4,5,6,7,8,9,10,20,30,40,50,60,70,80,90,100,200,300,400,500,600,700,800,900,1000,2000], "labels": false, "title": null}},
            "y": {"field": "v", "type": "quantitative", "scale": {"type": "log", "domain": [0.01, 1], "nice": false}, "axis": {"values": [0.01,0.02,0.03,0.04,0.05,0.06,0.07,0.08,0.09,0.1,0.2,0.3,0.4,0.5,0.6,0.7,0.8,0.9,1], "labelExpr": "datum.value == 1 ? '10⁰' : datum.value == 0.1 ? '10⁻¹' : datum.value == 0.01 ? '10⁻²' : ''", "title": "Mag. (S)", "labelFont": "Liberation Serif", "titleFont": "Liberation Serif"}},
            "color": {"field": "s", "type": "nominal", "scale": {"domain": ["E1","E2","E3","E4","E5","E6","E7"], "range": ["#0072BD","#D95319","#EDB120","#7E2F8E","#77AC30","#4DBEEE","#A2142F"]}, "legend": {"title": null, "orient": "none", "legendX": 748, "legendY": 148, "labelFont": "Liberation Serif", "labelFontSize": 26, "labelFontStyle": "italic", "labelColor": "#000000", "symbolSize": 150, "symbolStrokeWidth": 1.8, "symbolOpacity": 1, "rowPadding": 1, "padding": 4, "fillColor": "white", "labelOffset": 3, "labelExpr": "'E' + ['₀','₁','₂','₃','₄','₅','₆','₇'][toNumber(substring(datum.label, 1))]"}},
            "shape": {"field": "s", "type": "nominal", "scale": {"domain": ["E1","E2","E3","E4","E5","E6","E7"], "range": ["M-1,0L1,0M0,-1L0,1","circle","M-0.75,-0.75L0.75,0.75M-0.75,0.75L0.75,-0.75","square","diamond","triangle-right","triangle-left"]}, "legend": {"title": null, "orient": "none", "legendX": 748, "legendY": 148, "labelFont": "Liberation Serif", "labelFontSize": 26, "labelFontStyle": "italic", "labelColor": "#000000", "symbolSize": 150, "symbolStrokeWidth": 1.8, "symbolOpacity": 1, "rowPadding": 1, "padding": 4, "fillColor": "white", "labelOffset": 3, "labelExpr": "'E' + ['₀','₁','₂','₃','₄','₅','₆','₇'][toNumber(substring(datum.label, 1))]"}},
            "order": {"field": "s", "type": "ordinal"}
          }
        },
        {"data": {"values": [{}]}, "mark": {"type": "text", "text": "|", "fontSize": 33, "dx": -89, "dy": 27}, "encoding": {"x": {"datum": 2630, "type": "quantitative"}, "y": {"datum": 1, "type": "quantitative"}}},
        {"data": {"values": [{}]}, "mark": {"type": "text", "text": "y", "fontStyle": "italic", "fontSize": 29, "dx": -84, "dy": 25}, "encoding": {"x": {"datum": 2630, "type": "quantitative"}, "y": {"datum": 1, "type": "quantitative"}}},
        {"data": {"values": [{}]}, "mark": {"type": "text", "text": "gfli,qq", "fontSize": 19, "dx": -70, "dy": 28}, "encoding": {"x": {"datum": 2630, "type": "quantitative"}, "y": {"datum": 1, "type": "quantitative"}}},
        {"data": {"values": [{}]}, "mark": {"type": "text", "text": "|", "fontSize": 33, "dx": -15, "dy": 27}, "encoding": {"x": {"datum": 2630, "type": "quantitative"}, "y": {"datum": 1, "type": "quantitative"}}}
      ]
    },
    {
      "width": 328, "height": 95,
      "layer": [
        {
          "data": {"name": "pts"},
          "transform": [{"filter": "datum.p == 'G'"}, {"fold": ["E1","E2","E3","E4","E5","E6","E7"], "as": ["s","v"]}],
          "mark": {"type": "point", "filled": false, "size": 170, "strokeWidth": 1.8, "clip": false, "opacity": 1},
          "encoding": {
            "x": {"field": "f", "type": "quantitative", "scale": {"type": "log", "domain": [1, 2630], "nice": false}, "axis": {"values": [1,2,3,4,5,6,7,8,9,10,20,30,40,50,60,70,80,90,100,200,300,400,500,600,700,800,900,1000,2000], "labelExpr": "datum.value == 1 ? '10⁰' : datum.value == 10 ? '10¹' : datum.value == 100 ? '10²' : datum.value == 1000 ? '10³' : ''", "title": "Frequency (Hz)", "labelFont": "Liberation Serif", "titleFont": "Liberation Serif"}},
            "y": {"field": "v", "type": "quantitative", "scale": {"domain": [-200, 200], "nice": false, "zero": false}, "axis": {"values": [-200, 0, 200], "labelExpr": "replace(datum.label, '−', '-')", "title": "Phase (°)", "labelFont": "Liberation Serif", "titleFont": "Liberation Serif"}},
            "color": {"field": "s", "type": "nominal", "scale": {"domain": ["E1","E2","E3","E4","E5","E6","E7"], "range": ["#0072BD","#D95319","#EDB120","#7E2F8E","#77AC30","#4DBEEE","#A2142F"]}, "legend": {"title": null, "orient": "none", "legendX": 748, "legendY": 148, "labelFont": "Liberation Serif", "labelFontSize": 26, "labelFontStyle": "italic", "labelColor": "#000000", "symbolSize": 150, "symbolStrokeWidth": 1.8, "symbolOpacity": 1, "rowPadding": 1, "padding": 4, "fillColor": "white", "labelOffset": 3, "labelExpr": "'E' + ['₀','₁','₂','₃','₄','₅','₆','₇'][toNumber(substring(datum.label, 1))]"}},
            "shape": {"field": "s", "type": "nominal", "scale": {"domain": ["E1","E2","E3","E4","E5","E6","E7"], "range": ["M-1,0L1,0M0,-1L0,1","circle","M-0.75,-0.75L0.75,0.75M-0.75,0.75L0.75,-0.75","square","diamond","triangle-right","triangle-left"]}, "legend": {"title": null, "orient": "none", "legendX": 748, "legendY": 148, "labelFont": "Liberation Serif", "labelFontSize": 26, "labelFontStyle": "italic", "labelColor": "#000000", "symbolSize": 150, "symbolStrokeWidth": 1.8, "symbolOpacity": 1, "rowPadding": 1, "padding": 4, "fillColor": "white", "labelOffset": 3, "labelExpr": "'E' + ['₀','₁','₂','₃','₄','₅','₆','₇'][toNumber(substring(datum.label, 1))]"}},
            "order": {"field": "s", "type": "ordinal"}
          }
        },
        {"data": {"values": [{}]}, "mark": {"type": "text", "text": "∠", "font": "DejaVu Serif", "fontSize": 16, "dx": -91, "dy": 26}, "encoding": {"x": {"datum": 2630, "type": "quantitative"}, "y": {"datum": 200, "type": "quantitative"}}},
        {"data": {"values": [{}]}, "mark": {"type": "text", "text": "y", "fontStyle": "italic", "fontSize": 29, "dx": -78, "dy": 26}, "encoding": {"x": {"datum": 2630, "type": "quantitative"}, "y": {"datum": 200, "type": "quantitative"}}},
        {"data": {"values": [{}]}, "mark": {"type": "text", "text": "gfli,qd", "fontSize": 19, "dx": -64, "dy": 29}, "encoding": {"x": {"datum": 2630, "type": "quantitative"}, "y": {"datum": 200, "type": "quantitative"}}}
      ]
    },
    {
      "width": 328, "height": 95,
      "layer": [
        {
          "data": {"name": "pts"},
          "transform": [{"filter": "datum.p == 'H'"}, {"fold": ["E1","E2","E3","E4","E5","E6","E7"], "as": ["s","v"]}],
          "mark": {"type": "point", "filled": false, "size": 170, "strokeWidth": 1.8, "clip": false, "opacity": 1},
          "encoding": {
            "x": {"field": "f", "type": "quantitative", "scale": {"type": "log", "domain": [1, 2630], "nice": false}, "axis": {"values": [1,2,3,4,5,6,7,8,9,10,20,30,40,50,60,70,80,90,100,200,300,400,500,600,700,800,900,1000,2000], "labelExpr": "datum.value == 1 ? '10⁰' : datum.value == 10 ? '10¹' : datum.value == 100 ? '10²' : datum.value == 1000 ? '10³' : ''", "title": "Frequency (Hz)", "labelFont": "Liberation Serif", "titleFont": "Liberation Serif"}},
            "y": {"field": "v", "type": "quantitative", "scale": {"domain": [-100, 240], "nice": false, "zero": false}, "axis": {"values": [-100, 0, 100, 200], "labelExpr": "replace(datum.label, '−', '-')", "title": "Phase (°)", "labelFont": "Liberation Serif", "titleFont": "Liberation Serif"}},
            "color": {"field": "s", "type": "nominal", "scale": {"domain": ["E1","E2","E3","E4","E5","E6","E7"], "range": ["#0072BD","#D95319","#EDB120","#7E2F8E","#77AC30","#4DBEEE","#A2142F"]}, "legend": {"title": null, "orient": "none", "legendX": 748, "legendY": 148, "labelFont": "Liberation Serif", "labelFontSize": 26, "labelFontStyle": "italic", "labelColor": "#000000", "symbolSize": 150, "symbolStrokeWidth": 1.8, "symbolOpacity": 1, "rowPadding": 1, "padding": 4, "fillColor": "white", "labelOffset": 3, "labelExpr": "'E' + ['₀','₁','₂','₃','₄','₅','₆','₇'][toNumber(substring(datum.label, 1))]"}},
            "shape": {"field": "s", "type": "nominal", "scale": {"domain": ["E1","E2","E3","E4","E5","E6","E7"], "range": ["M-1,0L1,0M0,-1L0,1","circle","M-0.75,-0.75L0.75,0.75M-0.75,0.75L0.75,-0.75","square","diamond","triangle-right","triangle-left"]}, "legend": {"title": null, "orient": "none", "legendX": 748, "legendY": 148, "labelFont": "Liberation Serif", "labelFontSize": 26, "labelFontStyle": "italic", "labelColor": "#000000", "symbolSize": 150, "symbolStrokeWidth": 1.8, "symbolOpacity": 1, "rowPadding": 1, "padding": 4, "fillColor": "white", "labelOffset": 3, "labelExpr": "'E' + ['₀','₁','₂','₃','₄','₅','₆','₇'][toNumber(substring(datum.label, 1))]"}},
            "order": {"field": "s", "type": "ordinal"}
          }
        },
        {"data": {"values": [{}]}, "mark": {"type": "text", "text": "∠", "font": "DejaVu Serif", "fontSize": 16, "dx": -92, "dy": 26}, "encoding": {"x": {"datum": 2630, "type": "quantitative"}, "y": {"datum": 240, "type": "quantitative"}}},
        {"data": {"values": [{}]}, "mark": {"type": "text", "text": "y", "fontStyle": "italic", "fontSize": 29, "dx": -79, "dy": 26}, "encoding": {"x": {"datum": 2630, "type": "quantitative"}, "y": {"datum": 240, "type": "quantitative"}}},
        {"data": {"values": [{}]}, "mark": {"type": "text", "text": "gfli,qq", "fontSize": 19, "dx": -64, "dy": 29}, "encoding": {"x": {"datum": 2630, "type": "quantitative"}, "y": {"datum": 240, "type": "quantitative"}}}
      ]
    }
  ]
}
